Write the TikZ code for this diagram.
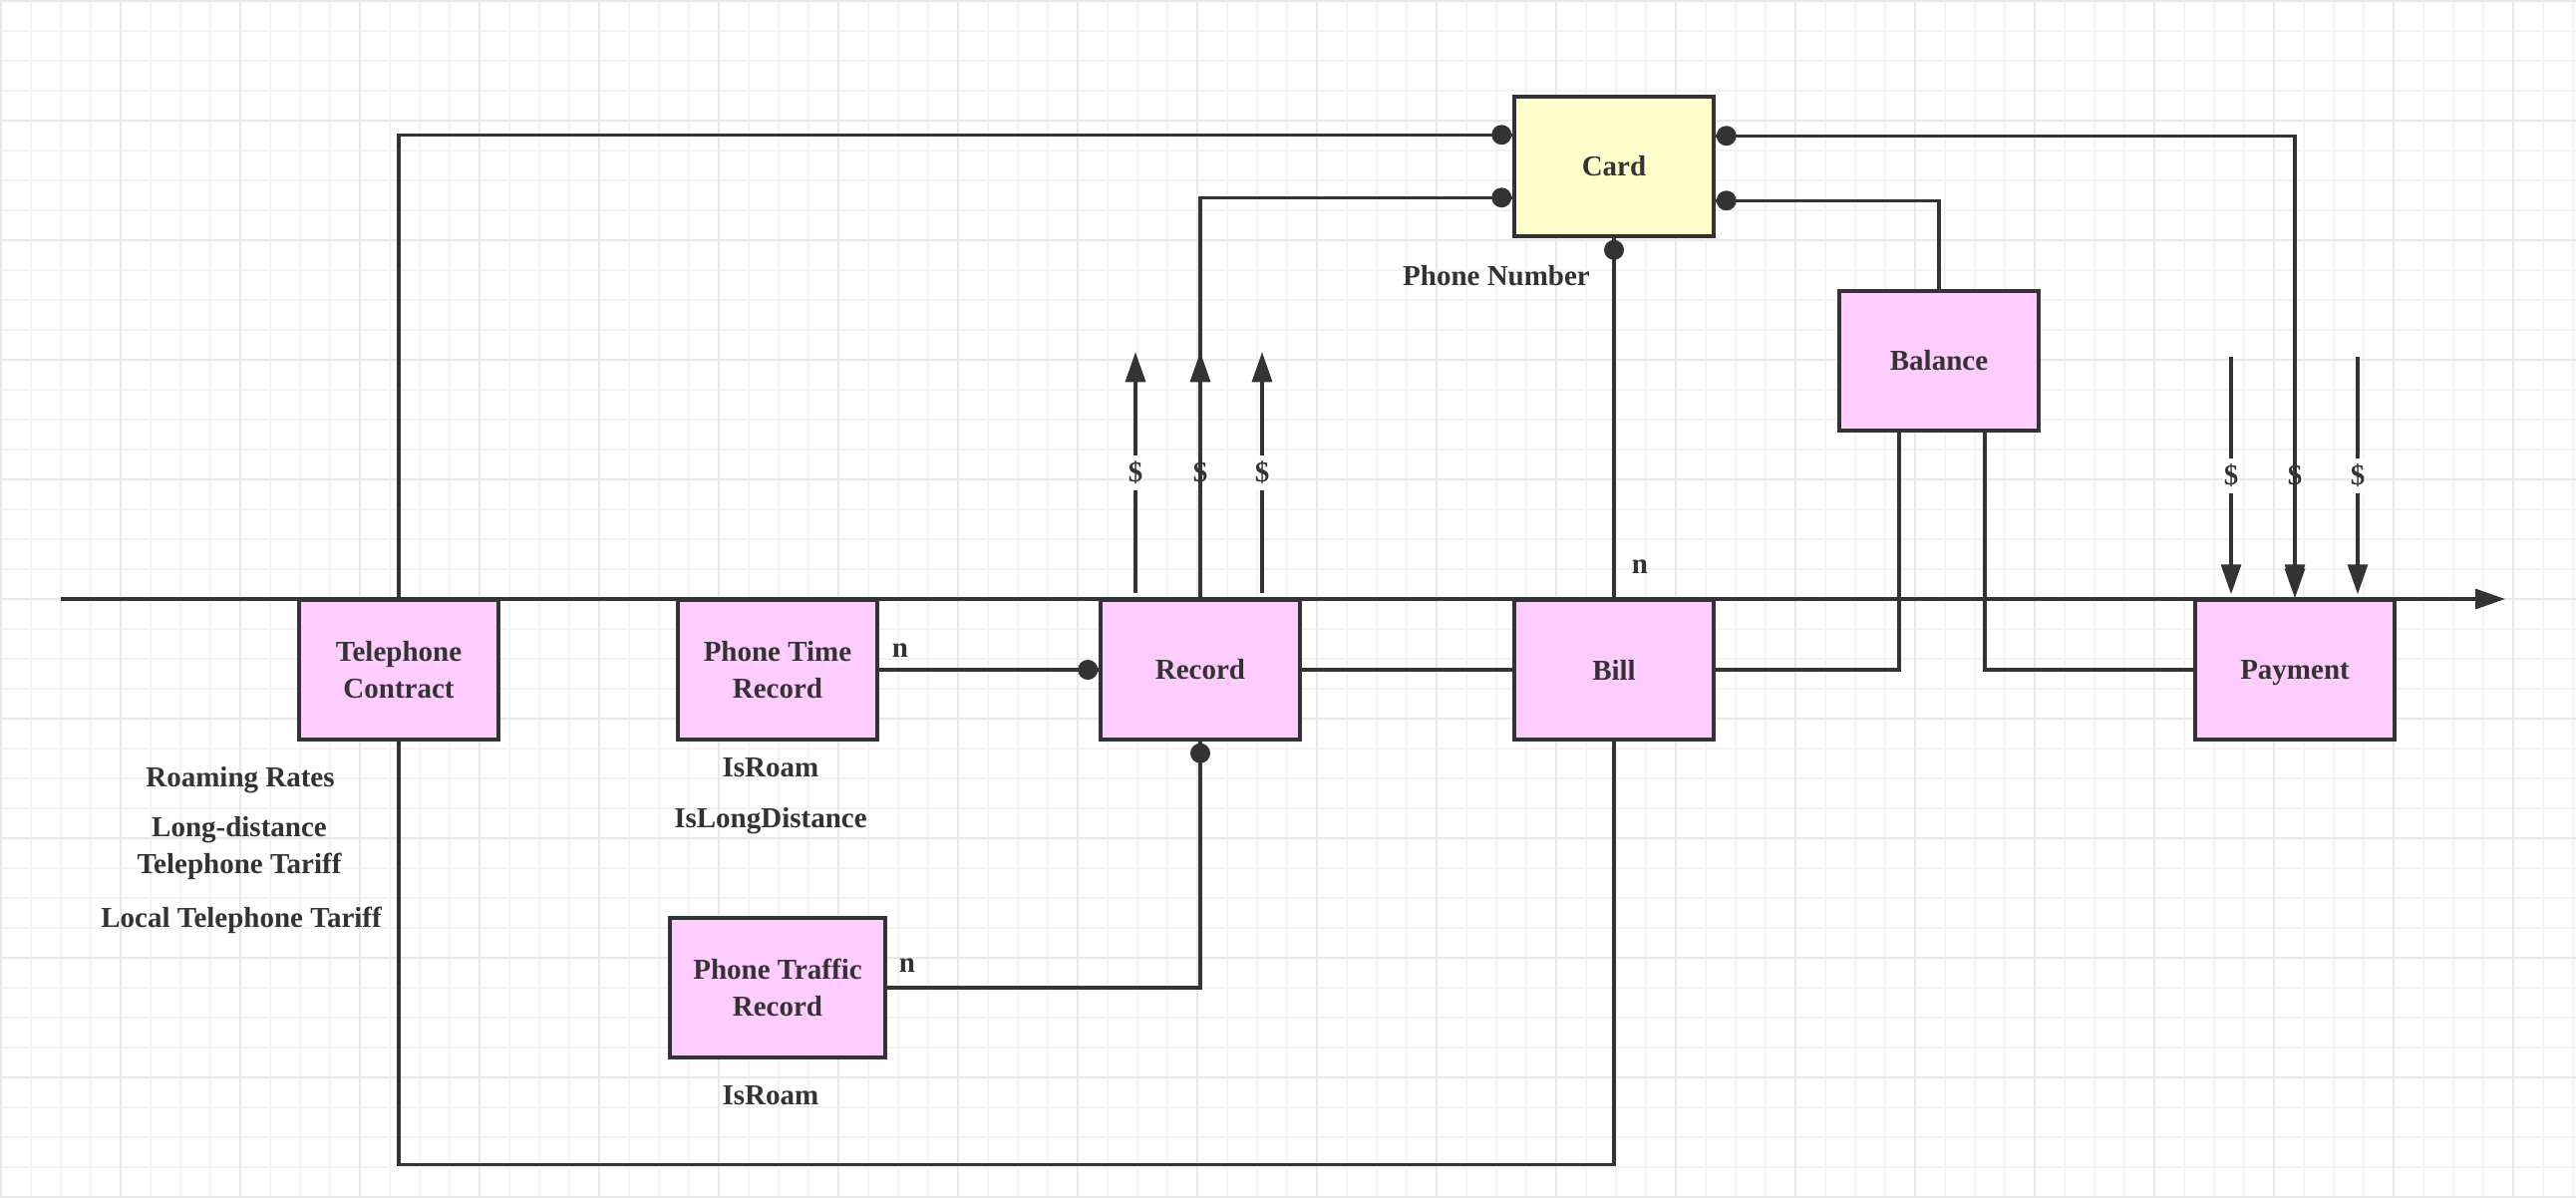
\documentclass[tikz,border=0pt]{standalone}
\usepackage{fontspec}
\setmainfont{Liberation Serif}
\usetikzlibrary{arrows.meta,calc}
\definecolor{ink}{HTML}{333333}
\definecolor{boxpink}{HTML}{FFCCFF}
\definecolor{cardyellow}{HTML}{FFFFCC}
\definecolor{gridminor}{HTML}{F3F3F3}
\definecolor{gridmajor}{HTML}{E8E8E8}
\begin{document}
\begin{tikzpicture}[x=1pt,y=-1pt,
  txt/.style={font=\fontsize{29}{37}\selectfont\bfseries, text=ink},
  entity/.style={draw=ink, line width=3.5pt, fill=boxpink, minimum width=200pt,
    minimum height=140pt, inner sep=0pt, align=center, txt},
  link/.style={draw=ink, line width=3.2pt},
  flow/.style={link, -{Triangle[length=30pt,width=20pt]}},
  money/.style={txt, fill=white, inner xsep=0.5pt, inner ysep=6pt},
  note/.style={txt, align=center, inner sep=0pt},
  dot/.style={fill=ink},
]
% canvas and grid
\useasboundingbox (0,0) rectangle (2584,1202);
\fill[white] (0,0) rectangle (2584,1202);
\foreach \x in {1,31,...,2581} \draw[gridminor, line width=2pt] (\x,0) -- (\x,1202);
\foreach \y in {1,31,...,1201} \draw[gridminor, line width=2pt] (0,\y) -- (2584,\y);
\foreach \x in {1,121,...,2521} \draw[gridmajor, line width=2pt] (\x,0) -- (\x,1202);
\foreach \y in {1,121,...,1201} \draw[gridmajor, line width=2pt] (0,\y) -- (2584,\y);

% time line
\coordinate (tl0) at (61,601);
\coordinate (tl1) at (2513,601);
\draw[flow] (tl0) -- (tl1);

% entities
\node[entity] (tc) at (400,672) {Telephone\\Contract};
\node[entity] (ptr) at (780,672) {Phone Time\\Record};
\node[entity] (rec) at (1204,672) {Record};
\node[entity] (bill) at (1619,672) {Bill};
\node[entity, text depth=0pt] (pay) at (2302,672) {Payment};
\node[entity, fill=cardyellow] (card) at (1619,167) {Card};
\node[entity] (bal) at (1945,362) {Balance};
\node[entity, minimum width=216pt] (ptf) at (780,991) {Phone Traffic\\Record};

% money flows
\foreach \dx in {-65,0,62}
  \draw[flow] ($(rec.north)+(\dx,-5)$) -- ($(rec.north)+(\dx,-247)$) node[money, pos=0.5] {\$};
\foreach \dx in {-64,0,63}
  \draw[flow] ($(pay.north)+(\dx,-242)$) -- ($(pay.north)+(\dx,-4)$) node[money, pos=0.5] {\$};

% card ports
\coordinate (cL1) at ($(card.north west)+(0,40)$);
\coordinate (cL2) at ($(card.north west)+(0,103)$);
\coordinate (cR1) at ($(card.north east)+(0,41)$);
\coordinate (cR2) at ($(card.north east)+(0,106)$);

% connectors
\draw[link] (tc.north) |- (cL1);
\draw[link] (rec.north) |- (cL2);
\draw[link] (card.south) -- (bill.north);
\draw[flow] (cR1) -| (pay.north);
\draw[link] (cR2) -| (bal.north);
\draw[link] ($(bal.south)+(-40,0)$) |- (bill.east);
\draw[link] ($(bal.south)+(46,0)$) |- (pay.west);
\draw[link] (rec.east) -- (bill.west);
\draw[link] (ptr.east) -- (rec.west);
\draw[link] (ptf.east) -| (rec.south);
\draw[link] (tc.south) -- ++(0,425) -| (bill.south);

% connector end dots
\fill[dot] ($(cL1)+(-11,0)$) circle[radius=10pt];
\fill[dot] ($(cL2)+(-11,0)$) circle[radius=10pt];
\fill[dot] ($(cR1)+(11,0)$) circle[radius=10pt];
\fill[dot] ($(cR2)+(11,0)$) circle[radius=10pt];
\fill[dot] ($(card.south)+(0,12)$) circle[radius=10pt];
\fill[dot] ($(rec.west)+(-11,0)$) circle[radius=10pt];
\fill[dot] ($(rec.south)+(0,12)$) circle[radius=10pt];

% labels
\node[note] (pn) at (1501,277) {Phone Number};
\node[note] (n1) at (1645,569) {n};
\node[note] (n2) at (903,653) {n};
\node[note] (n3) at (910,969) {n};
\node[note] (rr) at (241,783) {Roaming Rates};
\node[note] (ld) at (240,851) {Long-distance\\Telephone Tariff};
\node[note] (lt) at (242,923) {Local Telephone Tariff};
\node[note] (ir1) at (773,770) {IsRoam};
\node[note] (ild) at (773,824) {IsLongDistance};
\node[note] (ir2) at (773,1099) {IsRoam};
\end{tikzpicture}
\end{document}
